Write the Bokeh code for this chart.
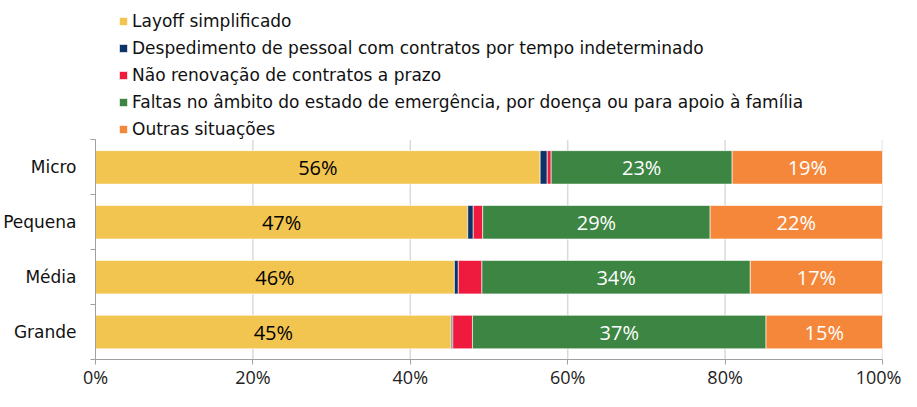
from bokeh.plotting import figure
from bokeh.models import (Range1d, LinearAxis, FixedTicker, Legend, LegendItem,
                          ColumnDataSource, CustomJSTickFormatter)
from bokeh.embed import file_html
from bokeh.resources import INLINE
from bokeh.core.properties import value

# ---------------- data ----------------
categories = ["Micro", "Pequena", "Média", "Grande"]
series_names = [
    "Layoff simplificado",
    "Despedimento de pessoal com contratos por tempo indeterminado",
    "Não renovação de contratos a prazo",
    "Faltas no âmbito do estado de emergência, por doença ou para apoio à família",
    "Outras situações",
]
layoff = [56.5, 47.3, 45.6, 45.2]
despedimento = [0.9, 0.7, 0.5, 0.2]
nao_renovacao = [0.5, 1.2, 3.0, 2.5]
faltas = [23.0, 28.9, 34.1, 37.3]
outras = [19.1, 21.9, 16.8, 14.8]
x_ticks = [0, 20, 40, 60, 80, 100]
x_tick_labels = ["0%", "20%", "40%", "60%", "80%", "100%"]

series = [layoff, despedimento, nao_renovacao, faltas, outras]
colors = ["#F2C551", "#0C3366", "#EE1B3F", "#3C8542", "#F5873A"]
labelled = {0: "black", 3: "white", 4: "white"}

LABEL_FONT = "DejaVu Sans"
NUM_FONT = "Open Sans"
n = len(categories)

# y range extends above the bars to host the legend inside the frame
p = figure(width=901, height=391, x_range=Range1d(0, 100), y_range=Range1d(n, -2.54),
           output_backend="svg", toolbar_location=None,
           x_axis_type=None, y_axis_type=None,
           min_border_left=93, min_border_right=19, min_border_top=0, min_border_bottom=27)
p.outline_line_color = None
p.background_fill_color = "white"
p.xgrid.visible = False
p.ygrid.visible = False

# vertical gridlines limited to the bar area
gx = x_ticks[1:]
p.segment(x0=gx, x1=gx, y0=[0] * len(gx), y1=[n] * len(gx),
          line_color="#DADADA", line_width=1.5)

ys = [i + 0.5 for i in range(n)]
left = [0.0] * n
items = []
for j, (name, vals, col) in enumerate(zip(series_names, series, colors)):
    right = [l + v for l, v in zip(left, vals)]
    src = ColumnDataSource(dict(y=ys, left=list(left), right=right))
    r = p.hbar(y="y", left="left", right="right", height=0.61, source=src,
               fill_color=col, line_color="white", line_width=0.6)
    items.append(LegendItem(label=name, renderers=[r]))
    if j in labelled:
        cx = [(l + rr) / 2 for l, rr in zip(left, right)]
        txt = [f"{round(v)}%" for v in vals]
        p.text(x=cx, y=ys, text=txt, text_align="center", text_baseline="middle",
               text_color=labelled[j], text_font=value(NUM_FONT), text_font_size="20px")
    left = right

# bottom axis
xaxis = LinearAxis(ticker=FixedTicker(ticks=x_ticks),
                   formatter=CustomJSTickFormatter(args=dict(xvals=x_ticks, xtext=x_tick_labels),
                                                   code="return xtext[xvals.indexOf(tick)]"))
xaxis.axis_line_color = "#A0A0A0"
xaxis.major_tick_line_color = "#A0A0A0"
xaxis.major_tick_out = 5
xaxis.major_tick_in = 0
xaxis.minor_tick_line_color = None
xaxis.major_label_standoff = 0
xaxis.major_label_text_font = NUM_FONT
xaxis.major_label_text_font_size = "18px"
xaxis.major_label_text_color = "#222222"
p.add_layout(xaxis, "below")

# left axis: labels at category centres, ticks at category boundaries
yaxis = LinearAxis(ticker=FixedTicker(ticks=ys, minor_ticks=list(range(n + 1))),
                   formatter=CustomJSTickFormatter(args=dict(cats=categories),
                                                   code="return cats[Math.floor(tick)]"),
                   bounds=(0, n))
yaxis.axis_line_color = "#A0A0A0"
yaxis.major_tick_line_color = None
yaxis.major_tick_out = 0
yaxis.major_tick_in = 0
yaxis.minor_tick_line_color = "#A0A0A0"
yaxis.minor_tick_out = 5
yaxis.minor_tick_in = 0
yaxis.major_label_standoff = 14
yaxis.major_label_text_font = LABEL_FONT
yaxis.major_label_text_font_size = "17px"
yaxis.major_label_text_color = "#111111"
p.add_layout(yaxis, "left")

legend = Legend(items=items, location=(23, 219), orientation="vertical")
legend.glyph_width = 10
legend.glyph_height = 10
legend.label_standoff = 4
legend.spacing = 4
legend.label_height = 23
legend.padding = 0
legend.margin = 0
legend.border_line_color = None
legend.background_fill_alpha = 0
legend.label_text_font = LABEL_FONT
legend.label_text_font_size = "17px"
legend.label_text_color = "#111111"
p.add_layout(legend, "center")

open("out.html", "w").write(file_html(p, INLINE))
